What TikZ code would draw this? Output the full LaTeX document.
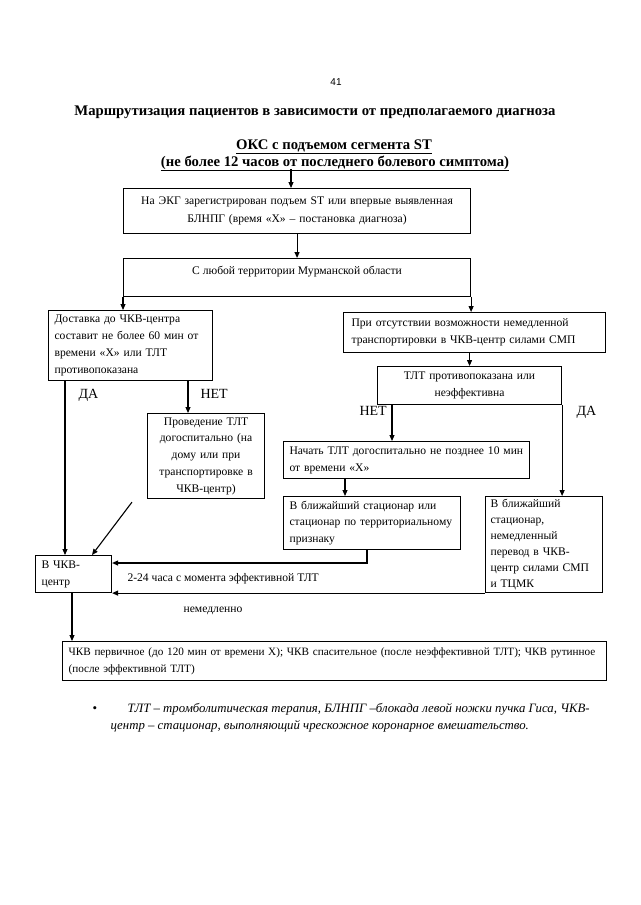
\documentclass[tikz,border=0pt]{standalone}
\usepackage{fontspec}
\setmainfont{Liberation Serif}
\newfontfamily\arialf{Liberation Sans}
\usetikzlibrary{arrows.meta}
\newcommand{\fsbox}{\fontsize{11.6}{16.8}\selectfont}
\tikzset{
  box/.style={draw, line width=1.1pt, inner sep=0pt, anchor=north west, font=\fsbox},
  arr/.style={line width=1.1pt, -{Triangle[length=6pt,width=5pt]}},
  yn/.style={font=\fontsize{14}{16}\selectfont, anchor=base west},
  hd/.style={font=\bfseries\fontsize{14.7}{16}\selectfont, anchor=base},
  fnote/.style={font=\itshape\fontsize{12.8}{14}\selectfont, anchor=base west},
}
\begin{document}
\begin{tikzpicture}[x=1pt,y=-1pt]
\useasboundingbox[fill=white] (0,0) rectangle (640,905);
\node[font=\arialf\fontsize{10}{12}\selectfont, anchor=base] (pg) at (336,85) {41};
\node[hd] (title) at (315,115) {Маршрутизация пациентов в зависимости от предполагаемого диагноза};
\node[hd] (h1) at (334,149) {\underline{ОКС с подъемом сегмента ST}};
\node[hd] (h2) at (335,166) {\underline{(не более 12 часов от последнего болевого симптома)}};
\coordinate (c0) at (291,169);

% boxes
\node[box, minimum width=347, minimum height=45, text width=340, align=center, font=\fontsize{11.6}{18}\selectfont] (b1) at (123,188)
  {На ЭКГ зарегистрирован подъем ST или впервые выявленная\\БЛНПГ (время «Х» – постановка диагноза)};
\node[box, minimum width=347, minimum height=38] (b2) at (123,258) {};
\node[font=\fsbox, anchor=base] (b2t) at ([yshift=-16]b2.north) {С любой территории Мурманской области};

\node[box, minimum width=164, minimum height=70, text width=152, align=left] (b3) at (48,310)
  {Доставка до ЧКВ-центра\\составит не более 60 мин от\\времени «Х» или ТЛТ\\противопоказана};
\node[box, minimum width=117, minimum height=85, text width=114, align=center] (b4) at (147,413)
  {Проведение ТЛТ\\догоспитально (на\\дому или при\\транспортировке в\\ЧКВ-центр)};

\node[box, minimum width=262, minimum height=40, text width=246, align=left] (b5) at (343,312)
  {При отсутствии возможности немедленной\\транспортировки в ЧКВ-центр силами СМП};
\node[box, minimum width=184, minimum height=38, text width=178, align=center] (b6) at (377,366)
  {ТЛТ противопоказана или\\неэффективна};
\node[box, minimum width=246, minimum height=37, text width=234, align=left] (b7) at (283,441)
  {Начать ТЛТ догоспитально не позднее 10 мин\\от времени «Х»};
\node[box, minimum width=177, minimum height=53, text width=165, align=left] (b8) at (283,496)
  {В ближайший стационар или\\стационар по территориальному\\признаку};
\node[box, minimum width=117, minimum height=96, text width=107, align=left, font=\fontsize{11.6}{16}\selectfont] (b9) at (485,496)
  {В ближайший\\стационар,\\немедленный\\перевод в ЧКВ-\\центр силами СМП\\и ТЦМК};
\node[box, minimum width=76, minimum height=37, text width=64, align=left] (b10) at (35,555)
  {В ЧКВ-\\центр};
\node[box, minimum width=544, minimum height=39, text width=532, align=left, font=\fontsize{11.2}{16.8}\selectfont] (b11) at (62,641)
  {\mbox{ЧКВ первичное (до 120 мин от времени Х); ЧКВ спасительное (после неэффективной ТЛТ); ЧКВ рутинное}\\(после эффективной ТЛТ)};

% connectors
\draw[arr] (c0) -- (c0 |- b1.north);
\draw[arr] (b1.south) -- (b2.north);
\draw[arr] (b2.south west) -- (b2.south west |- b3.north);
\draw[arr] (b2.south east) -- (b2.south east |- b5.north);
\draw[arr] ([xshift=17]b3.south west) -- ([xshift=17]b3.south west |- b10.north);
\draw[arr] ([xshift=140]b3.south west) -- ([xshift=140]b3.south west |- b4.north);
\draw[arr] ([xshift=-15,yshift=-3]b4.south west) -- ([xshift=57]b10.north west);
\draw[arr] ([xshift=37]b10.south west) -- ([xshift=37]b10.south west |- b11.north);
\draw[arr] (b5.south -| b6.north) -- (b6.north);
\draw[arr] ([xshift=15]b6.south west) -- ([xshift=15]b6.south west |- b7.north);
\draw[arr] (b6.south east) -- (b6.south east |- b9.north);
\draw[arr] ([xshift=62]b7.south west) -- ([xshift=62]b7.south west |- b8.north);
\draw[arr] ([xshift=84]b8.south west) |- ([yshift=-8]b10.north east);
\draw[arr] (b9.south west) -- (b10.south east);

% labels
\node[yn] (da1) at (75,398) {ДА};
\node[yn] (net1) at (197,398) {НЕТ};
\node[yn] (net2) at (356,415) {НЕТ};
\node[yn] (da2) at (573,415) {ДА};
\node[font=\fsbox, anchor=base west] (t224) at (124,581) {2-24 часа с момента эффективной ТЛТ};
\node[font=\fsbox, anchor=base] (imm) at (213,612) {немедленно};

% footnote
\node[font=\fontsize{13}{14}\selectfont, anchor=base] (bul) at (95,712) {•};
\node[fnote] (fn1) at (124,712) {ТЛТ – тромболитическая терапия, БЛНПГ –блокада левой ножки пучка Гиса, ЧКВ-};
\node[fnote] (fn2) at (107,729) {центр – стационар, выполняющий чрескожное коронарное вмешательство.};
\end{tikzpicture}
\end{document}
